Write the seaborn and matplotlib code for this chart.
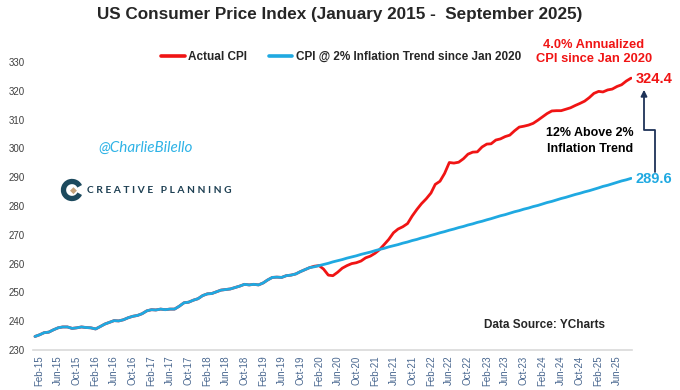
import matplotlib
matplotlib.use("Agg")
import matplotlib.pyplot as plt
import matplotlib.dates as mdates
from matplotlib.lines import Line2D
import seaborn as sns
import pandas as pd

# Monthly CPI-U, Jan 2015 - Sep 2025
actual_cpi = [
    234.7, 235.3, 236.0, 236.2, 237.0, 237.7, 238.0, 238.0, 237.5, 237.7, 238.0, 237.8,  # 2015
    237.7, 237.3, 238.1, 239.0, 239.6, 240.2, 240.1, 240.5, 241.2, 241.7, 242.0, 242.6,  # 2016
    243.6, 244.0, 243.9, 244.2, 244.0, 244.2, 244.2, 245.2, 246.4, 246.6, 247.3, 247.8,  # 2017
    248.9, 249.5, 249.6, 250.2, 250.8, 251.0, 251.2, 251.7, 252.2, 252.8, 252.6, 252.8,  # 2018
    252.6, 253.3, 254.3, 255.2, 255.3, 255.2, 255.8, 256.0, 256.4, 257.2, 257.9, 258.6,  # 2019
    259.1, 259.3, 258.1, 256.0, 255.8, 257.0, 258.4, 259.3, 260.0, 260.3, 260.9, 262.0,  # 2020
    262.6, 263.6, 264.8, 266.6, 268.4, 270.7, 272.0, 272.8, 273.9, 276.5, 278.8, 280.8,  # 2021
    282.5, 284.5, 287.5, 288.6, 291.3, 295.1, 294.9, 295.2, 296.4, 298.0, 298.7, 298.8,  # 2022
    300.5, 301.5, 301.6, 302.9, 303.3, 304.1, 304.6, 306.1, 307.4, 307.7, 308.1, 308.7,  # 2023
    309.8, 311.0, 312.1, 313.0, 313.1, 313.1, 313.6, 314.1, 314.9, 315.6, 316.4, 317.6,  # 2024
    319.1, 319.8, 319.6, 320.3, 320.6, 321.5, 322.1, 323.4, 324.4,                       # 2025
]

# CPI @ 2% trend since Jan 2020 (Jan 2020 - Sep 2025)
trend_cpi = [
    258.9, 259.3, 259.7, 260.1, 260.6, 261.0, 261.4, 261.9, 262.3, 262.7, 263.2, 263.6,
    264.0, 264.5, 264.9, 265.3, 265.8, 266.2, 266.6, 267.1, 267.5, 268.0, 268.4, 268.9,
    269.3, 269.8, 270.2, 270.7, 271.1, 271.6, 272.0, 272.5, 272.9, 273.4, 273.8, 274.3,
    274.7, 275.2, 275.6, 276.1, 276.6, 277.0, 277.5, 278.0, 278.4, 278.9, 279.3, 279.8,
    280.2, 280.7, 281.2, 281.6, 282.1, 282.6, 283.0, 283.5, 284.0, 284.4, 284.9, 285.3,
    285.8, 286.3, 286.8, 287.2, 287.7, 288.2, 288.7, 289.1, 289.6,
]

pre_2020 = actual_cpi[:60]
blue_series = pre_2020 + trend_cpi

dates = pd.date_range("2015-01-01", periods=len(actual_cpi), freq="MS")
df = pd.DataFrame({"date": dates, "Actual CPI": actual_cpi,
                   "CPI @ 2% Inflation Trend since Jan 2020": blue_series})

RED = "#f01414"
BLUE = "#1fa9e1"
NAVY = "#1f3358"
narrow = ["Liberation Sans", "DejaVu Sans"]

sns.set_style("white")
plt.rcParams["font.family"] = ["Liberation Sans", "DejaVu Sans"]

fig = plt.figure(figsize=(6.8, 3.9), dpi=100)
ax = fig.add_axes([33 / 680, 1 - 350 / 390, (632 - 33) / 680, (350 - 62) / 390])

sns.lineplot(x="date", y="Actual CPI", data=df, color=RED, lw=2.0, ax=ax,
             label="Actual CPI")
sns.lineplot(x="date", y="CPI @ 2% Inflation Trend since Jan 2020", data=df,
             color=BLUE, lw=2.0, ax=ax,
             label="CPI @ 2% Inflation Trend since Jan 2020")

ax.set_ylim(230, 330)
ax.set_yticks(range(230, 331, 10))
ax.set_xlim(dates[0] - pd.Timedelta(days=13), dates[-1] + pd.Timedelta(days=6))
ax.xaxis.set_major_locator(mdates.MonthLocator(bymonth=[2, 6, 10]))
ax.xaxis.set_major_formatter(mdates.DateFormatter("%b-%y"))
ax.set_xlabel("")
ax.set_ylabel("")
for lab in ax.get_xticklabels():
    lab.set_rotation(90)
ax.tick_params(axis="x", labelsize=7, colors="#4a6890", length=0, pad=4)
ax.tick_params(axis="y", labelsize=7, colors="#404040", length=0, pad=6)
for s in ["top", "right", "left"]:
    ax.spines[s].set_visible(False)
ax.spines["bottom"].set_color("#d9d9d9")
ax.spines["bottom"].set_linewidth(1.2)

leg = ax.legend(loc="center", bbox_to_anchor=(341 / 680, 1 - 57 / 390),
                bbox_transform=fig.transFigure, ncol=2, frameon=False,
                handlelength=2.0, columnspacing=1.8, handletextpad=0.3,
                prop={"family": narrow, "weight": "bold", "size": 8.5})
for h in leg.get_lines():
    h.set_linewidth(2.6)

fig.text(0.5, 1 - 15 / 390, "US Consumer Price Index (January 2015 -  September 2025)",
         ha="center", va="center", fontsize=12.3, fontweight="bold", family=narrow)

fig.text(594 / 680, 1 - 52 / 390, "4.0% Annualized\nCPI since Jan 2020", ha="center",
         va="center", color=RED, fontsize=9.3, fontweight="bold", family=narrow,
         linespacing=1.3)
fig.text(636 / 680, 1 - 79 / 390, "324.4", ha="left", va="center", color=RED,
         fontsize=10.5, fontweight="bold", family=narrow)
fig.text(635 / 680, 1 - 179 / 390, "289.6", ha="left", va="center", color=BLUE,
         fontsize=10.5, fontweight="bold", family=narrow)
fig.text(590 / 680, 1 - 141 / 390, "12% Above 2%\nInflation Trend", ha="center",
         va="center", color="black", fontsize=9, fontweight="bold", family=narrow,
         linespacing=1.35)

# elbow arrow
px = lambda x, y: (x / 680, 1 - y / 390)
xs, ys = zip(px(655, 172), px(655, 130), px(644, 130), px(644, 100))
fig.add_artist(Line2D(xs, ys, color=NAVY, lw=1.3, transform=fig.transFigure))
fig.add_artist(matplotlib.patches.FancyArrowPatch(px(644, 102), px(644, 87),
               transform=fig.transFigure, arrowstyle="-|>", mutation_scale=9,
               color=NAVY, lw=1.3))

fig.text(545 / 680, 1 - 325 / 390, "Data Source: YCharts", ha="center", va="center",
         fontsize=8.5, fontweight="bold", family=narrow)

fig.text(146 / 680, 1 - 148 / 390, "@CharlieBilello", ha="center", va="center",
         color="#2fb3e6", fontsize=11, style="italic", family=["Lato", "DejaVu Sans"])

# logo
fig.add_artist(matplotlib.patches.Arc(px(72, 190), 17 / 680, 17 / 390,
               theta1=40, theta2=320, lw=3.8, color="#1d4a5e",
               transform=fig.transFigure))
fig.text(73 / 680, 1 - 190 / 390, "\u25c6", ha="center", va="center", color="#c4a27a",
         fontsize=6.5)
fig.text(87 / 680, 1 - 190 / 390, "C R E A T I V E   P L A N N I N G", ha="left",
         va="center", color="#1d3f52", fontsize=7.4, fontweight="bold",
         family=["Lato", "DejaVu Sans"])

fig.savefig("out.png", dpi=100)
